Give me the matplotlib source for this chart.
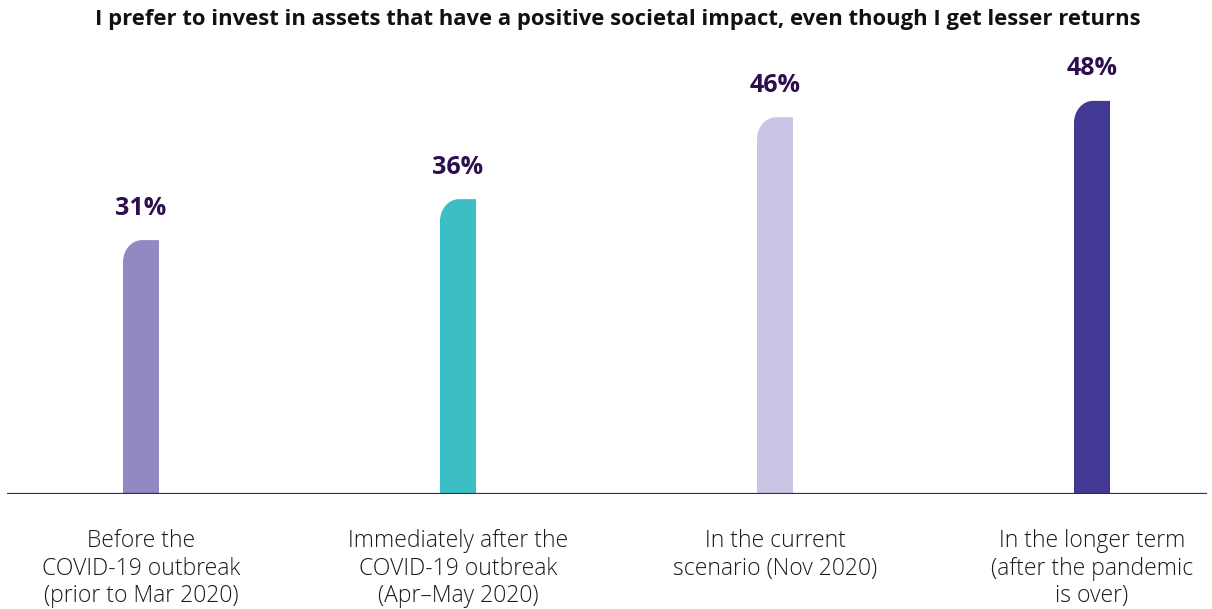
import numpy as np
import matplotlib.pyplot as plt
from matplotlib.path import Path
from matplotlib.patches import PathPatch

plt.rcParams['font.family'] = ['Open Sans', 'DejaVu Sans']

title = "I prefer to invest in assets that have a positive societal impact, even though I get lesser returns"
categories = ["Before the\nCOVID-19 outbreak\n(prior to Mar 2020)",
              "Immediately after the\nCOVID-19 outbreak\n(Apr\u2013May 2020)",
              "In the current\nscenario (Nov 2020)",
              "In the longer term\n(after the pandemic\nis over)"]
values = [31, 36, 46, 48]
colors = ["#9389c2", "#3bbfc4", "#c8c6e4", "#423994"]
label_color = "#2d0f4f"

W, H = 1212, 609
fig = plt.figure(figsize=(W / 100, H / 100), dpi=100)
# axes: baseline at y=494px, spans x 7..1207
ax = fig.add_axes([7 / W, (H - 494) / H, 1200 / W, 494 / H])
px_x = 317.0          # pixels per category step
px_y = 8.19           # pixels per percent
x_left = -134 / px_x
ax.set_xlim(x_left, x_left + 1200 / px_x)
ax.set_ylim(0, 494 / px_y)
ax.axis("off")

bar_w = 36 / px_x
rx = 19 / px_x
ry = 22 / px_y
k = 0.5523
for i, (v, c) in enumerate(zip(values, colors)):
    x0 = i - bar_w / 2
    x1 = i + bar_w / 2
    verts = [(x0, 0), (x0, v - ry),
             (x0, v - ry + k * ry), (x0 + rx - k * rx, v), (x0 + rx, v),
             (x1, v), (x1, 0), (x0, 0)]
    codes = [Path.MOVETO, Path.LINETO,
             Path.CURVE4, Path.CURVE4, Path.CURVE4,
             Path.LINETO, Path.LINETO, Path.CLOSEPOLY]
    ax.add_patch(PathPatch(Path(verts, codes), facecolor=c, edgecolor="none"))
    ax.text(i, v + 32 / px_y, f"{v}%", ha="center", va="center",
            fontsize=18, fontweight="bold", color=label_color)
    ax.text(i, -(529 - 494) / px_y, categories[i], ha="center", va="top",
            fontsize=16.5, fontweight="light", color="#1a1a1a",
            linespacing=1.2, clip_on=False, multialignment="center")

ax.axhline(0, color="#3b1f78", lw=1.6)

fig.text(618 / W, 1 - 20 / H, title, ha="center", va="center",
         fontsize=15.8, fontweight="bold", color="#111111")

fig.savefig("out.png", dpi=100)
